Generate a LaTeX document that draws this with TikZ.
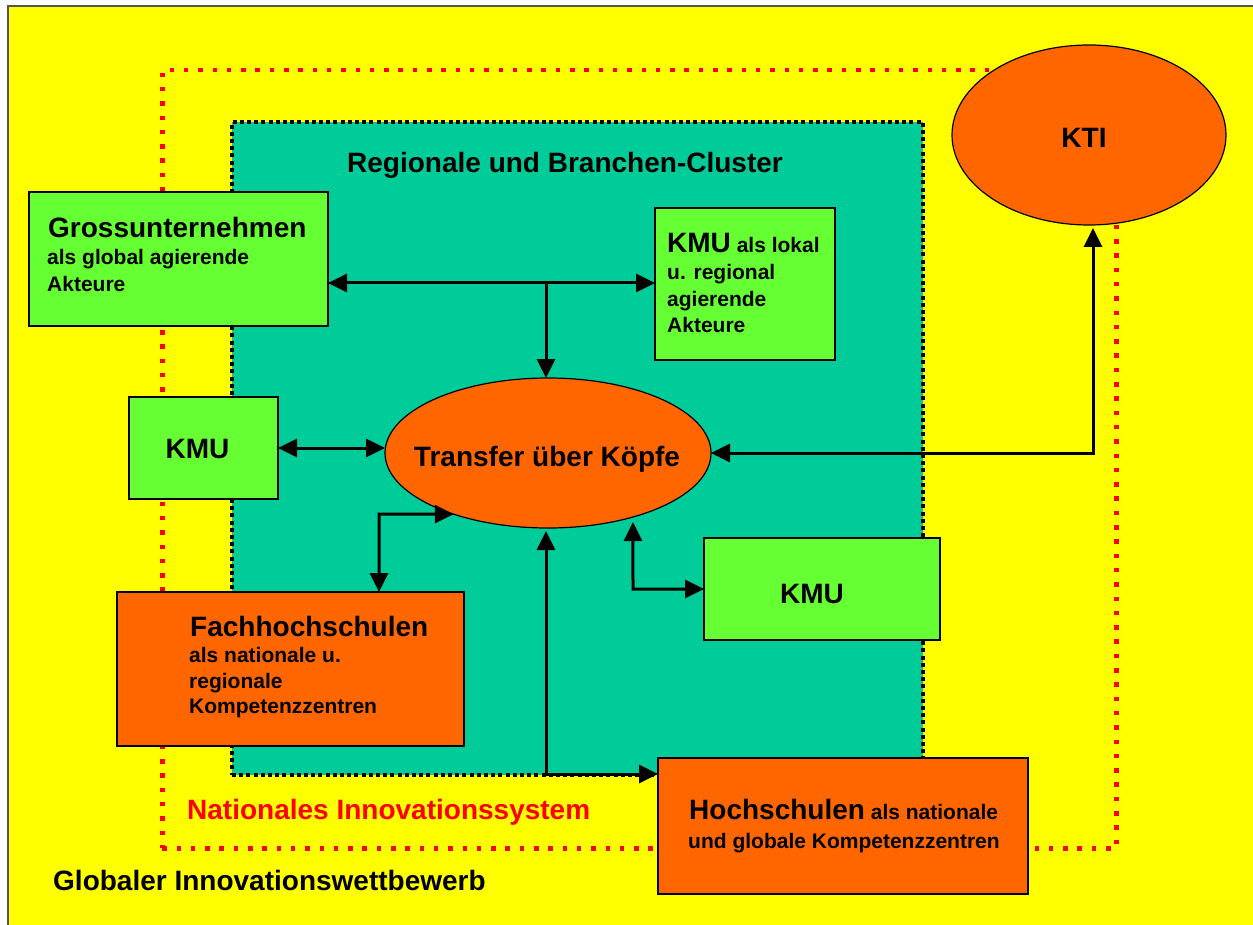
\documentclass[tikz,border=0pt]{standalone}
\usepackage{fontspec}
\setmainfont{Liberation Sans}
\usetikzlibrary{arrows.meta,shapes.geometric}

\definecolor{bgyellow}{HTML}{FFFF00}
\definecolor{clusterteal}{HTML}{00CC99}
\definecolor{actorgreen}{HTML}{66FF33}
\definecolor{schoolorange}{HTML}{FF6600}
\definecolor{framegray}{HTML}{555555}

\newcommand\headfont{\fontsize{28}{30}\selectfont\bfseries}
\newcommand\subfont{\fontsize{21}{26}\selectfont\bfseries}

\tikzset{
  box/.style={draw=black, line width=1.5pt, inner sep=0pt, outer sep=0pt, anchor=north west},
  greenbox/.style={box, fill=actorgreen},
  orangebox/.style={box, fill=schoolorange},
  oval/.style={ellipse, draw=black, line width=1.2pt, fill=schoolorange, inner sep=0pt, outer sep=0pt},
  headtext/.style={inner sep=0pt, anchor=base west, font=\headfont},
  subtext/.style={inner sep=0pt, anchor=base west, font=\subfont},
  tip/.tip={Triangle[length=19pt,width=18pt]},
  biarrow/.style={line width=3pt, tip-tip},
  onearrow/.style={line width=3pt, -tip},
  reddots/.style={draw=red, line width=4.5pt, dash pattern=on 4.5pt off 9.8pt},
  blackdots/.style={draw=black, line width=4pt, dash pattern=on 4pt off 3.2pt},
}

\begin{document}
\begin{tikzpicture}[x=1pt,y=-1pt]
\useasboundingbox (0,0) rectangle (1253,925);

% outer frame: global competition
\fill[white] (0,0) rectangle (1253,925);
\fill[bgyellow] (8,6) rectangle (1253,925);
\draw[framegray, line width=2pt] (8,925) -- (8,6) -- (1253,6);

% national innovation system
\node[anchor=north west, minimum width=954pt, minimum height=778pt, inner sep=0pt, reddots] (national) at (160,68) {};

% regional and sector clusters
\node[anchor=north west, minimum width=691pt, minimum height=653pt, inner sep=0pt, fill=clusterteal, blackdots] (cluster) at (230,120) {};

% actors
\node[greenbox, minimum width=299pt, minimum height=134pt] (gross) at (29,192) {};
\node[greenbox, minimum width=180pt, minimum height=152pt] (kmuA) at (655,208) {};
\node[greenbox, minimum width=149pt, minimum height=102pt] (kmuL) at (129,397) {};
\node[greenbox, minimum width=236pt, minimum height=102pt] (kmuR) at (704,538) {};
\node[orangebox, minimum width=347pt, minimum height=154pt] (fach) at (117,592) {};
\node[orangebox, minimum width=370pt, minimum height=136pt] (hoch) at (658,758) {};

\node[oval, minimum width=326pt, minimum height=150pt] (transfer) at (548,453) {};
\node[oval, minimum width=274pt, minimum height=180pt] (kti) at (1089,135) {};

% connectors
\coordinate (jn) at (546,283);
\draw[biarrow] (gross.east |- jn) -- (kmuA.west |- jn);
\draw[onearrow] (jn) -- (jn |- transfer.north);

\draw[biarrow] (kmuL.east) -- (transfer.west |- kmuL.east);

\coordinate (fk) at (379,514);
\draw[biarrow] (transfer.213) -- (fk) -- (fk |- fach.north);

\coordinate (kr) at (633,589);
\draw[biarrow, shorten <=5pt] (transfer.-37) -- (kr) -- (kr -| kmuR.west);

\coordinate (hk) at (546,774);
\draw[biarrow, shorten <=3pt] (hk |- transfer.south) -- (hk) -- (hk -| hoch.west);

\coordinate (kk) at (1093,453);
\draw[biarrow, shorten >=3pt] (transfer.east) -- (kk) -- (kk |- kti.south);

% labels
\node[headtext] (tCluster) at (347,173) {Regionale und Branchen-Cluster};

\node[headtext] (tGross) at (48,238) {Grossunternehmen};
\node[subtext] (tGross2) at (47,265) {als global agierende};
\node[subtext] (tGross3) at (47,292) {Akteure};

\node[headtext] (tKmuA) at (667,253) {KMU{\subfont\ als lokal}};
\node[subtext] (tKmuA2) at (667,280) {u. regional};
\node[subtext] (tKmuA3) at (667,307) {agierende};
\node[subtext] (tKmuA4) at (667,332) {Akteure};

\node[headtext, anchor=base] (tKmuL) at (197.5,458) {KMU};
\node[headtext, anchor=base] (tKmuR) at (812,603) {KMU};
\node[headtext, anchor=base] (tTransfer) at (547,466) {Transfer über Köpfe};
\node[headtext, anchor=base] (tKti) at (1084,148) {KTI};

\node[headtext] (tFach) at (190,636) {Fachhochschulen};
\node[subtext] (tFach2) at (189,662) {als nationale u.};
\node[subtext] (tFach3) at (189,688) {regionale};
\node[subtext] (tFach4) at (189,713) {Kompetenzzentren};

\node[headtext] (tHoch) at (689,819) {Hochschulen{\subfont\ als nationale}};
\node[subtext] (tHoch2) at (688,848) {und globale Kompetenzzentren};

\node[headtext, text=red] (tNational) at (187,819) {Nationales Innovationssystem};
\node[headtext] (tGlobal) at (53,890) {Globaler Innovationswettbewerb};
\end{tikzpicture}
\end{document}
